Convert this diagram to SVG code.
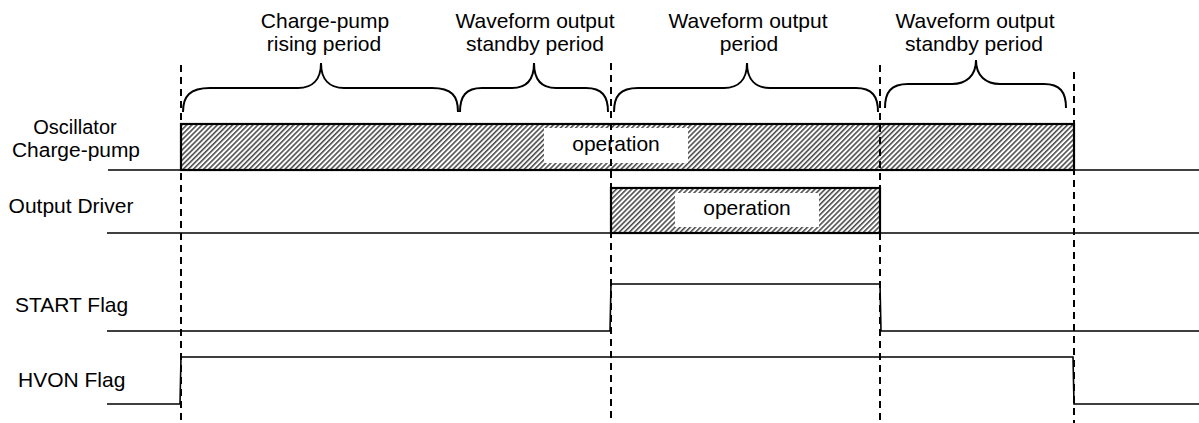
<svg xmlns="http://www.w3.org/2000/svg" width="1199" height="423" viewBox="0 0 1199 423">
<style>
text{font-family:"Liberation Sans",Arial,sans-serif;font-size:21px;fill:#000}
.c{text-anchor:middle}
.s{font-size:20px}
.ln{stroke:#000;stroke-width:1.6;fill:none}
.br{stroke:#000;stroke-width:2;fill:none}
.dash{stroke:#000;stroke-width:2;stroke-dasharray:7 5;fill:none}
.bar{fill:url(#hatch);stroke:#000;stroke-width:2.2}
.wb{fill:#fff}
</style>
<defs>
<pattern id="hatch" patternUnits="userSpaceOnUse" width="3.6" height="10" patternTransform="rotate(45)">
<rect width="3.6" height="10" fill="#fff"/>
<line x1="0.8" y1="0" x2="0.8" y2="10" stroke="#333" stroke-width="1.4"/>
</pattern>
</defs>
<g id="period-labels">
<g id="p1"><text class="c" x="325" y="28">Charge-pump</text><text class="c" x="324" y="51">rising period</text>
<path class="br" d="M183,112 C183,96 190,88 210,88 L298,88 C312,88 321,80 321,63 C321,80 330,88 344,88 L432,88 C452,88 458,96 458,112"/></g>
<g id="p2"><text class="c" x="535" y="28">Waveform output</text><text class="c" x="535" y="51">standby period</text>
<path class="br" d="M460,112 C460,96 466,88 482,88 L512,88 C526,88 534,80 534,63 C534,80 542,88 556,88 L586,88 C602,88 608,96 608,112"/></g>
<g id="p3"><text class="c" x="748" y="28">Waveform output</text><text class="c" x="749" y="51">period</text>
<path class="br" d="M614,112 C614,96 620,88 638,88 L724,88 C738,88 747,80 747,63 C747,80 756,88 770,88 L856,88 C872,88 878,96 878,112"/></g>
<g id="p4"><text class="c" x="975" y="28">Waveform output</text><text class="c" x="974" y="51">standby period</text>
<path class="br" d="M885,108 C885,92 891,84 908,84 L952,84 C966,84 976,76 976,60 C976,76 986,84 1000,84 L1044,84 C1060,84 1066,92 1066,108"/></g>
</g>
<g id="osc">
<text class="c s" x="75" y="134">Oscillator</text><text class="c s" x="76" y="157" textLength="128" lengthAdjust="spacingAndGlyphs">Charge-pump</text>
<line class="ln" x1="108" y1="170" x2="1199" y2="170"/>
<rect class="bar" x="181" y="124" width="893" height="46"/>
<rect class="wb" x="544" y="128" width="144" height="35"/>
<text class="c" x="616" y="151">operation</text>
</g>
<g id="driver">
<text class="c" x="71" y="213">Output Driver</text>
<line class="ln" x1="107" y1="233" x2="1199" y2="233"/>
<rect class="bar" x="611" y="188" width="269" height="45"/>
<rect class="wb" x="675" y="193" width="144" height="34"/>
<text class="c" x="747" y="215">operation</text>
</g>
<g id="start">
<text x="15" y="312">START Flag</text>
<path class="ln" d="M107,331 L610,331 L611,284 L880,284 L881,331 L1199,331"/>
</g>
<g id="hvon">
<text x="18" y="387">HVON Flag</text>
<path class="ln" d="M107,404 L180,404 L181,357 L1073,357 L1074,404 L1199,404"/>
</g>
<g id="connectors">
<line class="dash" x1="181" y1="65" x2="181" y2="423"/>
<line class="dash" x1="611" y1="63" x2="611" y2="423"/>
<line class="dash" x1="880" y1="65" x2="880" y2="423"/>
<line class="dash" x1="1074" y1="72" x2="1074" y2="423"/>
</g>
</svg>
